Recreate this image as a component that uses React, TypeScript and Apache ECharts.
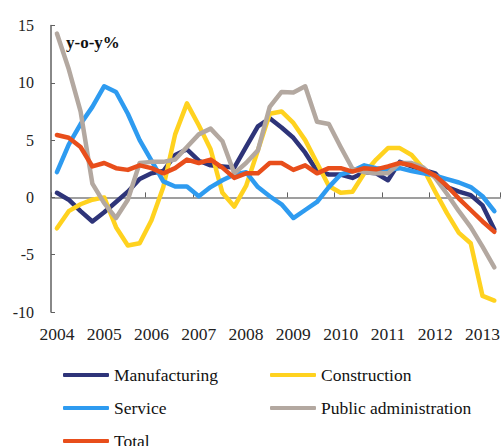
import React, { useEffect, useRef } from "react";
import * as echarts from "echarts";

const years = ["2004", "2005", "2006", "2007", "2008", "2009", "2010", "2011", "2012", "2013"];
const categories: string[] = [];
years.forEach((y) => {
  ["Q1", "Q2", "Q3", "Q4"].forEach((q) => categories.push(`${y} ${q}`));
});
categories.splice(38);

const manufacturing = [0.4, -0.2, -1.2, -2.1, -1.3, -0.4, 0.5, 1.6, 2.1, 2.3, 3.7, 4.2, 3.2, 2.8, 2.7, 2.6, 4.4, 6.2, 6.9, 6.1, 5.2, 3.9, 2.3, 2.0, 2.0, 1.7, 2.2, 2.1, 1.5, 3.1, 2.7, 2.4, 2.1, 0.9, 0.5, 0.2, -0.7, -2.8];
const construction = [-2.7, -1.2, -0.6, -0.2, 0.0, -2.6, -4.2, -4.0, -2.0, 0.9, 5.5, 8.2, 6.3, 4.2, 0.4, -0.8, 1.0, 4.1, 7.3, 7.5, 6.5, 5.0, 3.0, 1.0, 0.4, 0.5, 2.1, 3.3, 4.3, 4.3, 3.7, 2.5, 0.5, -1.4, -3.1, -4.0, -8.6, -9.0];
const service = [2.2, 4.6, 6.4, 7.9, 9.7, 9.2, 7.3, 5.0, 3.2, 1.4, 0.95, 0.95, 0.1, 0.9, 1.5, 2.0, 2.2, 0.9, 0.1, -0.6, -1.8, -1.1, -0.4, 0.9, 2.0, 2.3, 2.8, 2.55, 2.4, 2.55, 2.3, 2.1, 1.9, 1.6, 1.3, 0.9, 0.1, -1.2];
const publicAdmin = [14.3, 11.2, 7.5, 1.2, -0.5, -1.8, -0.2, 3.0, 3.1, 3.1, 3.3, 4.4, 5.5, 6.0, 4.9, 2.1, 3.0, 4.1, 7.9, 9.2, 9.15, 9.7, 6.6, 6.4, 4.4, 2.5, 2.2, 2.1, 2.1, 3.0, 3.0, 2.6, 1.7, 0.3, -1.2, -2.6, -4.3, -6.1];
const total = [5.45, 5.2, 4.4, 2.7, 3.0, 2.55, 2.4, 2.8, 2.55, 2.1, 2.55, 3.3, 3.0, 3.3, 2.6, 1.7, 2.1, 2.1, 3.0, 3.0, 2.4, 2.8, 2.1, 2.55, 2.55, 2.25, 2.55, 2.45, 2.7, 3.0, 2.8, 2.4, 1.9, 1.0, -0.1, -1.1, -2.1, -3.0];

const seriesNames = ["Manufacturing", "Construction", "Service", "Public administration", "Total"];
const seriesData = [manufacturing, construction, service, publicAdmin, total];
const seriesColors = ["#2E3479", "#FFD21F", "#2E9BF0", "#B3A8A0", "#E84E1B"];

const FONT = "'Liberation Serif', 'Times New Roman', serif";

export default function App() {
  const ref = useRef<HTMLDivElement>(null);
  useEffect(() => {
    if (!ref.current) return;
    const chart = echarts.init(ref.current, undefined, { renderer: "svg" });
    const legendBase = {
      orient: "vertical",
      itemWidth: 46,
      itemHeight: 4,
      itemGap: 13,
      icon: "roundRect",
      padding: 0,
      height: 120,
      textStyle: { fontSize: 17.5, fontFamily: FONT, color: "#111", lineHeight: 20 },
    };
    chart.setOption({
      animation: false,
      backgroundColor: "#fff",
      grid: { left: 51, top: 25.5, right: 0, bottom: 134, containLabel: false },
      legend: [
        { ...legendBase, left: 63, top: 365, data: ["Manufacturing", "Service", "Total"] },
        { ...legendBase, left: 270, top: 365, data: ["Construction", "Public administration"] },
      ],
      graphic: [
        {
          type: "text",
          left: 66,
          top: 34,
          style: { text: "y-o-y%", font: `bold 17px ${FONT}`, fill: "#111" },
        },
      ],
      xAxis: [
        {
          type: "category",
          data: categories,
          boundaryGap: true,
          axisLine: { show: true, onZero: true, lineStyle: { color: "#808080", width: 1.5 } },
          axisTick: { show: true, inside: true, length: 5, interval: 3, lineStyle: { color: "#606060" } },
          axisLabel: { show: false },
          splitLine: { show: false },
        },
        {
          type: "category",
          data: categories,
          position: "bottom",
          boundaryGap: true,
          axisLine: { show: false, onZero: false },
          axisTick: { show: false },
          axisLabel: {
            show: true,
            interval: 3,
            margin: 13,
            fontSize: 17.5,
            fontFamily: FONT,
            color: "#222",
            formatter: (v: string) => v.slice(0, 4),
          },
          splitLine: { show: false },
        },
      ],
      yAxis: {
        type: "value",
        min: -10,
        max: 15,
        interval: 5,
        axisLine: { show: true, lineStyle: { color: "#606060", width: 1.5 } },
        axisTick: { show: true, inside: true, length: 4, lineStyle: { color: "#606060" } },
        axisLabel: { margin: 17, fontSize: 16, fontFamily: FONT, color: "#222" },
        splitLine: { show: false },
      },
      series: seriesNames.map((name, i) => ({
        name,
        type: "line",
        data: seriesData[i],
        showSymbol: false,
        symbol: "none",
        color: seriesColors[i],
        lineStyle: { width: 4.5, color: seriesColors[i], cap: "round", join: "round" },
        z: 2 + i,
      })),
    });
    return () => chart.dispose();
  }, []);
  return (
    <div
      ref={ref}
      style={{ position: "fixed", left: 0, top: 0, width: 503, height: 446, background: "#fff" }}
    />
  );
}
